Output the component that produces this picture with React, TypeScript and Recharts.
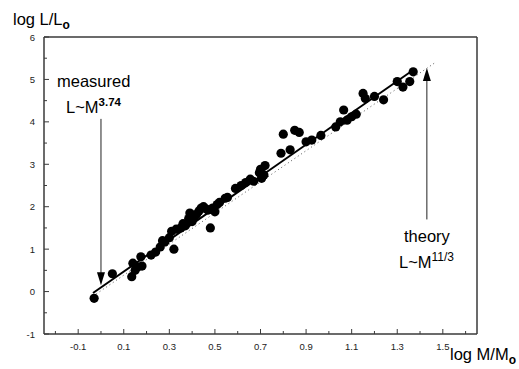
import { ScatterChart, Scatter, XAxis, YAxis, ReferenceLine } from 'recharts'

// log M/Mo and log L/Lo of each star
const logMass = [
  -0.03, 0.05, 0.135, 0.14, 0.15, 0.16, 0.175, 0.18, 0.22, 0.24,
  0.26, 0.27, 0.28, 0.3, 0.31, 0.32, 0.33, 0.35, 0.36, 0.37,
  0.385, 0.39, 0.4, 0.405, 0.41, 0.42, 0.43, 0.44, 0.45, 0.46,
  0.47, 0.48, 0.49, 0.5, 0.51, 0.52, 0.545, 0.555, 0.59, 0.615,
  0.635, 0.655, 0.67, 0.695, 0.7, 0.705, 0.715, 0.72, 0.79, 0.8,
  0.83, 0.85, 0.87, 0.9, 0.925, 0.965, 1.03, 1.05, 1.065, 1.08,
  1.1, 1.12, 1.15, 1.16, 1.2, 1.24, 1.3, 1.325, 1.355, 1.37,
]
const logLum = [
  -0.16, 0.42, 0.35, 0.67, 0.5, 0.58, 0.82, 0.6, 0.86, 0.93,
  1.05, 1.2, 1.17, 1.27, 1.42, 1.0, 1.47, 1.5, 1.6, 1.55,
  1.72, 1.85, 1.65, 1.8, 1.75, 1.82, 1.9, 1.97, 2.0, 1.95,
  1.92, 1.5, 1.97, 1.88, 2.05, 2.1, 2.2, 2.22, 2.43, 2.5,
  2.57, 2.65, 2.6, 2.8, 2.88, 2.67, 2.75, 2.97, 3.26, 3.71,
  3.34, 3.8, 3.75, 3.53, 3.57, 3.68, 3.88, 4.0, 4.28, 4.04,
  4.12, 4.18, 4.67, 4.55, 4.6, 4.52, 4.95, 4.82, 4.95, 5.18,
]

const xTicks = [-0.2, -0.1, 0, 0.1, 0.2, 0.3, 0.4, 0.5, 0.6, 0.7, 0.8, 0.9, 1.0, 1.1, 1.2, 1.3, 1.4, 1.5, 1.6]
const yTicks = [-1, -0.5, 0, 0.5, 1, 1.5, 2, 2.5, 3, 3.5, 4, 4.5, 5, 5.5, 6]

// fitted power law (solid) and theory (dotted)
const measuredFit = { slope: 3.74, intercept: 0.098, from: -0.035, to: 1.37 }
const theoryFit = { slope: 11 / 3, intercept: 0.02, from: -0.035, to: 1.47 }

// annotation arrows: shaft from/to and arrowhead tip
const measuredArrow = { m: 0, top: 4.07, tip: 0.15 }
const theoryArrow = { m: 1.43, bottom: 1.7, tip: 5.27 }

const stars = logMass.map((m, i) => ({ m, l: logLum[i] }))
const arrowHeads = [
  { m: measuredArrow.m, l: measuredArrow.tip, dir: 'down' },
  { m: theoryArrow.m, l: theoryArrow.tip, dir: 'up' },
]

const fitSegment = (f: typeof measuredFit) => [
  { x: f.from, y: f.slope * f.from + f.intercept },
  { x: f.to, y: f.slope * f.to + f.intercept },
]

const axisColor = '#3a3a3a'
const font = '"Liberation Sans", Arial, sans-serif'

function XTick(props: any) {
  const { x, y, payload } = props
  const v = payload.value
  const major = Math.abs(Math.round(v * 10)) % 2 === 1
  return (
    <g>
      <line x1={x} x2={x} y1={y} y2={y - (major ? 5 : 3)} stroke={axisColor} />
      {major && (
        <text x={x} y={y + 16} textAnchor="middle" fontSize={9.5} fill="#222" fontFamily={font}>
          {v.toFixed(1)}
        </text>
      )}
    </g>
  )
}

function YTick(props: any) {
  const { x, y, payload } = props
  const v = payload.value
  const major = Number.isInteger(v)
  return (
    <g>
      <line x1={x} x2={x + (major ? 5 : 3)} y1={y} y2={y} stroke={axisColor} />
      {major && (
        <text x={x - 9} y={y + 3.5} textAnchor="end" fontSize={9.5} fill="#222" fontFamily={font}>
          {v}
        </text>
      )}
    </g>
  )
}

const Dot = (p: any) => <circle cx={p.cx} cy={p.cy} r={4.6} fill="#000" />

const Head = (p: any) => {
  const { cx, cy, payload } = p
  const s = payload.dir === 'down' ? -1 : 1
  return <polygon points={`${cx},${cy} ${cx - 4},${cy + s * 13} ${cx + 4},${cy + s * 13}`} fill="#000" />
}

export default function App() {
  return (
    <div style={{ position: 'absolute', left: 0, top: 0, width: 519, height: 369, background: '#fff' }}>
      <ScatterChart width={519} height={369} margin={{ top: 37, right: 42, bottom: 15, left: 14 }}>
        <XAxis
          type="number"
          dataKey="m"
          domain={[-0.25, 1.65]}
          ticks={xTicks}
          interval={0}
          height={20}
          tickSize={0}
          tickMargin={0}
          tickLine={false}
          tick={<XTick />}
          axisLine={{ stroke: axisColor, strokeWidth: 1.5 }}
        />
        <YAxis
          type="number"
          dataKey="l"
          domain={[-1, 6]}
          ticks={yTicks}
          interval={0}
          width={30}
          tickSize={0}
          tickMargin={0}
          tickLine={false}
          tick={<YTick />}
          axisLine={{ stroke: axisColor, strokeWidth: 1.5 }}
        />
        <ReferenceLine y={6} stroke={axisColor} strokeWidth={1.5} />
        <ReferenceLine x={1.65} stroke={axisColor} strokeWidth={1.5} />
        <ReferenceLine segment={fitSegment(theoryFit)} stroke="#555" strokeWidth={1} strokeDasharray="1 3" />
        <ReferenceLine segment={fitSegment(measuredFit)} stroke="#000" strokeWidth={2} />
        <ReferenceLine
          segment={[{ x: measuredArrow.m, y: measuredArrow.top }, { x: measuredArrow.m, y: measuredArrow.tip + 0.2 }]}
          stroke="#222"
          strokeWidth={1}
        />
        <ReferenceLine
          segment={[{ x: theoryArrow.m, y: theoryArrow.bottom }, { x: theoryArrow.m, y: theoryArrow.tip - 0.2 }]}
          stroke="#222"
          strokeWidth={1}
        />
        <Scatter data={stars} shape={Dot} isAnimationActive={false} />
        <Scatter data={arrowHeads} shape={Head} isAnimationActive={false} />
      </ScatterChart>
      <svg width={519} height={369} style={{ position: 'absolute', left: 0, top: 0, pointerEvents: 'none' }} fontFamily={font} fill="#000">
        <text x={13} y={25} fontSize={16.5}>
          log L/L<tspan fontSize={12} fontWeight="bold" dy={4}>o</tspan>
        </text>
        <text x={57} y={87} fontSize={16.5}>measured</text>
        <text x={66} y={113} fontSize={16.5}>
          L~M<tspan fontSize={11.5} fontWeight="bold" dy={-7}>3.74</tspan>
        </text>
        <text x={404} y={242} fontSize={16.5}>theory</text>
        <text x={399} y={268} fontSize={16.5}>
          L~M<tspan fontSize={12} dy={-7}>11/3</tspan>
        </text>
        <text x={450} y={360} fontSize={16.5}>
          log M/M<tspan fontSize={12} fontWeight="bold" dy={4}>o</tspan>
        </text>
      </svg>
    </div>
  )
}
